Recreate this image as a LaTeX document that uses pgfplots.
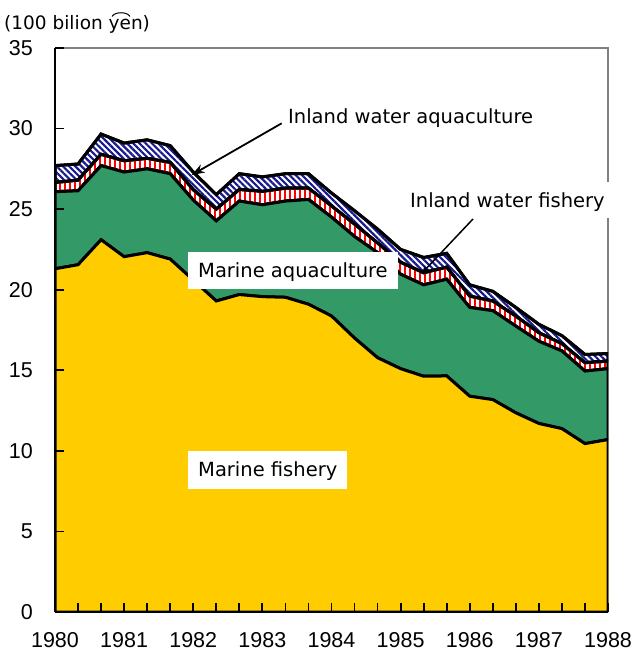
\documentclass[border=0pt]{standalone}
\usepackage{fontspec}
\setmainfont{DejaVu Sans}
\newfontfamily\tickfont{Liberation Sans}
\usepackage{pgfplots}
\usepackage{pgfplotstable}
\pgfplotsset{compat=1.18}
\usetikzlibrary{patterns.meta, arrows.meta}
\definecolor{myyellow}{HTML}{FFCC00}
\definecolor{mygreen}{HTML}{339966}
\definecolor{mynavy}{HTML}{1A1A8F}
\definecolor{axgray}{HTML}{808080}

\pgfplotstableread{
i  mf     ma    ifi   iaq
0  21.30  4.78  0.57  1.05
1  21.55  4.59  0.66  1.00
2  23.10  4.60  0.70  1.26
3  22.05  5.25  0.70  1.10
4  22.30  5.20  0.65  1.15
5  21.90  5.30  0.70  1.04
6  20.60  4.96  0.64  1.10
7  19.30  4.97  0.73  0.90
8  19.70  5.80  0.72  0.98
9  19.57  5.70  0.83  0.90
10 19.53  5.97  0.80  0.90
11 19.10  6.50  0.70  0.90
12 18.37  6.13  0.70  0.80
13 17.00  6.30  0.77  0.83
14 15.78  6.52  0.60  0.86
15 15.10  5.86  0.74  0.80
16 14.63  5.67  0.75  0.95
17 14.65  6.00  0.75  0.86
18 13.39  5.51  0.70  0.70
19 13.18  5.52  0.60  0.60
20 12.36  5.38  0.62  0.54
21 11.70  5.10  0.53  0.52
22 11.38  4.82  0.45  0.50
23 10.45  4.50  0.52  0.51
24 10.70  4.40  0.47  0.47
}\datatable

\begin{document}
\begin{tikzpicture}
\path[use as bounding box] (-55bp,-39bp) rectangle (579bp,612bp);
% gray top and right frame
\draw[axgray, line width=2.2bp] (0bp,564bp) -- (553bp,564bp) -- (553bp,0bp);
\begin{axis}[
  at={(0bp,0bp)}, anchor=south west,
  scale only axis, width=553bp, height=564bp,
  xmin=0, xmax=24, ymin=0, ymax=35,
  stack plots=y,
  axis on top,
  axis x line*=bottom, axis y line*=left,
  axis line style={-, line width=2.4bp, black},
  xtick={0,3,...,24},
  xticklabels={1980,1981,1982,1983,1984,1985,1986,1987,1988},
  minor xtick={1,2,4,5,7,8,10,11,13,14,16,17,19,20,22,23},
  ytick={0,5,...,35},
  yticklabels={0,5,10,15,20,25,30,35},
  tick align=inside,
  major tick length=9bp, minor tick length=9bp,
  every tick/.style={black, line width=1.8bp},
  ticklabel style={font=\tickfont\fontsize{21.5bp}{21.5bp}\selectfont, inner sep=0pt},
  xticklabel style={anchor=north, yshift=-20bp},
  yticklabel style={anchor=east, xshift=-22bp},
]
\addplot[draw=black, line width=3bp, fill=myyellow] table[x=i, y=mf]{\datatable} \closedcycle;
\addplot[draw=black, line width=3bp, fill=mygreen] table[x=i, y=ma]{\datatable} \closedcycle;
\addplot[draw=black, line width=3bp, preaction={fill=white},
  pattern={Lines[angle=90, distance=5bp, line width=2.5bp]}, pattern color=red]
  table[x=i, y=ifi]{\datatable} \closedcycle;
\addplot[draw=black, line width=3bp, preaction={fill=white},
  pattern={Lines[angle=-45, distance=4.4bp, line width=2.2bp]}, pattern color=mynavy]
  table[x=i, y=iaq]{\datatable} \closedcycle;
\end{axis}
% unit label
\node[anchor=base west, inner sep=0pt, font=\fontsize{18.5bp}{18.5bp}\selectfont] at (-51bp,582bp) {(100 bilion yen)};
\draw[line width=1bp] (57bp,595.5bp) .. controls (60bp,600.5bp) and (72bp,600.5bp) .. (75bp,595.5bp);
% annotations
\node[anchor=base west, inner sep=0pt, font=\fontsize{19.5bp}{19.5bp}\selectfont] at (233bp,488.7bp) {Inland water aquaculture};
\draw[line width=1.8bp, -{Stealth[length=13bp, width=9bp]}] (226.7bp,488.7bp) -- (136.7bp,437bp);
\node[anchor=base west, fill=white, inner xsep=10bp, inner ysep=0pt, text height=26bp, text depth=10.6bp,
  font=\fontsize{19.5bp}{19.5bp}\selectfont] at (345bp,404.3bp) {Inland water fishery};
\draw[line width=1.5bp, -{Stealth[length=8bp, width=6bp]}] (418bp,393bp) -- (366.7bp,338.7bp);
\node[anchor=base west, fill=white, inner xsep=10bp, inner ysep=0pt, text height=25.3bp, text depth=11.7bp,
  font=\fontsize{19.5bp}{19.5bp}\selectfont] at (133bp,334.7bp) {Marine aquaculture};
\node[anchor=base west, fill=white, inner xsep=10bp, inner ysep=0pt, text height=26bp, text depth=12bp,
  font=\fontsize{19.5bp}{19.5bp}\selectfont] at (133bp,135bp) {Marine fishery};
\end{tikzpicture}
\end{document}
